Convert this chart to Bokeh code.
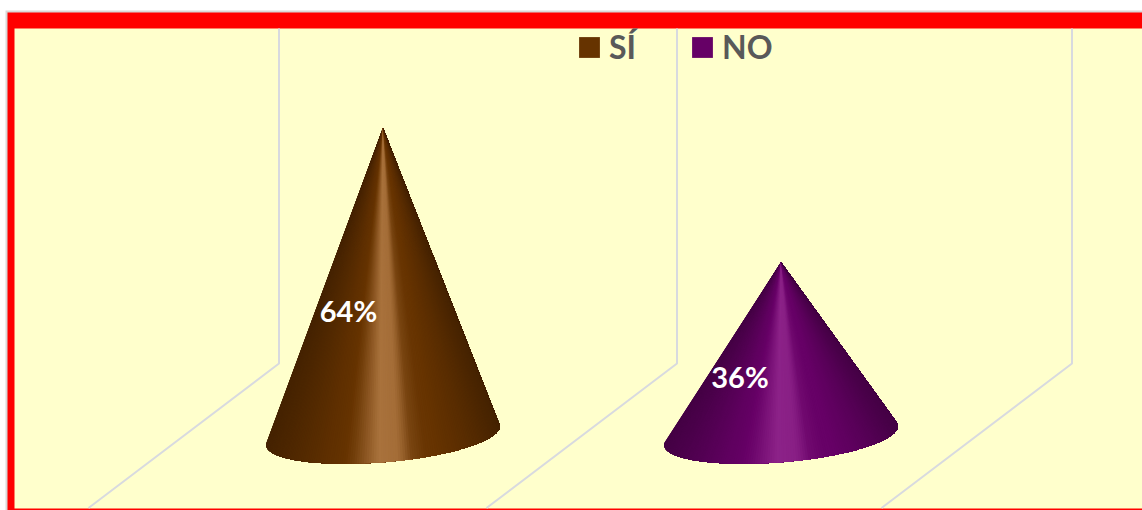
import numpy as np
from bokeh.plotting import figure
from bokeh.models import Range1d, Legend, LegendItem
from bokeh.core.properties import value
from bokeh.embed import file_html
from bokeh.resources import INLINE

# ---- chart data
categories = ["SÍ", "NO"]
percent = [64, 36]
swatch_colors = ["#663300", "#660066"]
highlight_colors = ["#A9723C", "#8C2288"]
label_heights = [26, 12.2]

# ---- layout (picture pixels)
W, H = 1142, 510
PAGE_X0, PAGE_Y0 = 0, 0
CAT0_PX, CAT_STEP_PX = 382.5, 398.0
ZERO_PY, PX_PER_PCT = 435.0, 4.81

x0 = (PAGE_X0 - CAT0_PX) / CAT_STEP_PX
x1 = (PAGE_X0 + W - CAT0_PX) / CAT_STEP_PX
y1 = (ZERO_PY - PAGE_Y0) / PX_PER_PCT
y0 = (ZERO_PY - PAGE_Y0 - H) / PX_PER_PCT

def X(px):
    return (np.asarray(px, float) - CAT0_PX) / CAT_STEP_PX

def Y(py):
    return (ZERO_PY - np.asarray(py, float)) / PX_PER_PCT

p = figure(width=W, height=H, output_backend="svg", toolbar_location=None,
           x_range=Range1d(x0, x1), y_range=Range1d(y0, y1),
           min_border=0, outline_line_color=None, background_fill_color="white",
           border_fill_color="white")
p.axis.visible = False
p.grid.visible = False

# frame: thin grey rule, red band, pale-yellow chart area
RIGHT = 1150
p.quad(left=[X(5)], right=[X(RIGHT)], top=[Y(10)], bottom=[Y(520)], fill_color="#D9D9D9", line_color=None)
p.quad(left=[X(7)], right=[X(RIGHT)], top=[Y(12)], bottom=[Y(520)], fill_color="#FF0000", line_color=None)
p.quad(left=[X(14)], right=[X(RIGHT)], top=[Y(28)], bottom=[Y(508)], fill_color="#FFFFCC", line_color=None)

# category walls of the 3-D floor
wall_px = [278.5, 676.5, 1071.5]
WALL_TOP, WALL_CORNER, WALL_FLOOR = 28, 363, 507.5
DEPTH_DX = 190.5
xs = [X([w, w, w - DEPTH_DX]).tolist() for w in wall_px]
ys = [Y([WALL_TOP, WALL_CORNER, WALL_FLOOR]).tolist() for _ in wall_px]
p.multi_line(xs, ys, line_color="#D8DADF", line_width=2)

# cones: each slice runs from its angle to the far end and is overpainted by the
# next one, so that no seams show between neighbouring shades
A = np.array([116.8, -10.0])   # half major axis of the tilted base, px
B = np.array([3.0, 26.5])      # half minor axis, px
stops_u = [-1.0, -0.75, -0.35, -0.27, -0.06, 0.10, 0.15, 0.22, 0.34, 0.72, 1.0]
stops_m = [-0.32, -0.2, 0.0, 0.2, 1.0, 0.92, 0.7, 0.28, 0.05, -0.14, -0.32]

def shade(base, high, u):
    m = float(np.interp(u, stops_u, stops_m))
    c0 = np.array([int(base[i:i + 2], 16) for i in (1, 3, 5)], float)
    c1 = np.array([int(high[i:i + 2], 16) for i in (1, 3, 5)], float)
    c = c0 + (c1 - c0) * m if m >= 0 else c0 * (1 + m)
    return "#%02x%02x%02x" % tuple(int(round(v)) for v in c)

thetas = np.radians(np.linspace(187, -7, 161))   # left to right along the front of the base
for i, (v, base, high) in enumerate(zip(percent, swatch_colors, highlight_colors)):
    cx_px = CAT0_PX + i * CAT_STEP_PX
    ox = X(cx_px + A[0] * np.cos(thetas) + B[0] * np.sin(thetas))
    oy = Y(ZERO_PY + A[1] * np.cos(thetas) + B[1] * np.sin(thetas))
    sx, sy, cols = [], [], []
    for k in range(len(thetas) - 1):
        sx.append([float(i)] + ox[k:].tolist())
        sy.append([float(v)] + oy[k:].tolist())
        cols.append(shade(base, high, float(np.cos((thetas[k] + thetas[k + 1]) / 2))))
    p.patches(sx, sy, fill_color=cols, line_color=None)

# data labels
label_dx_px = [-34.5, -41]
p.text(x=[k + d / CAT_STEP_PX for k, d in enumerate(label_dx_px)], y=label_heights,
       text=[f"{v}%" for v in percent], text_color="white", text_font=value("Lato"),
       text_font_style="bold", text_font_size="29px", text_align="center", text_baseline="middle")

# legend
items = []
for name, col in zip(categories, swatch_colors):
    r = p.quad(left=[np.nan], right=[np.nan], top=[np.nan], bottom=[np.nan], fill_color=col, line_color=None)
    items.append(LegendItem(label=name, renderers=[r]))
legend = Legend(items=items, orientation="horizontal", location=(576, 444), margin=0, padding=0,
                background_fill_alpha=0, border_line_color=None, glyph_width=26, glyph_height=26,
                label_standoff=7, spacing=53, label_text_font="Lato", label_text_font_style="bold",
                label_text_font_size="32px", label_text_color="#595959", label_height=26)
p.add_layout(legend)

open("out.html", "w").write(file_html(p, INLINE))
